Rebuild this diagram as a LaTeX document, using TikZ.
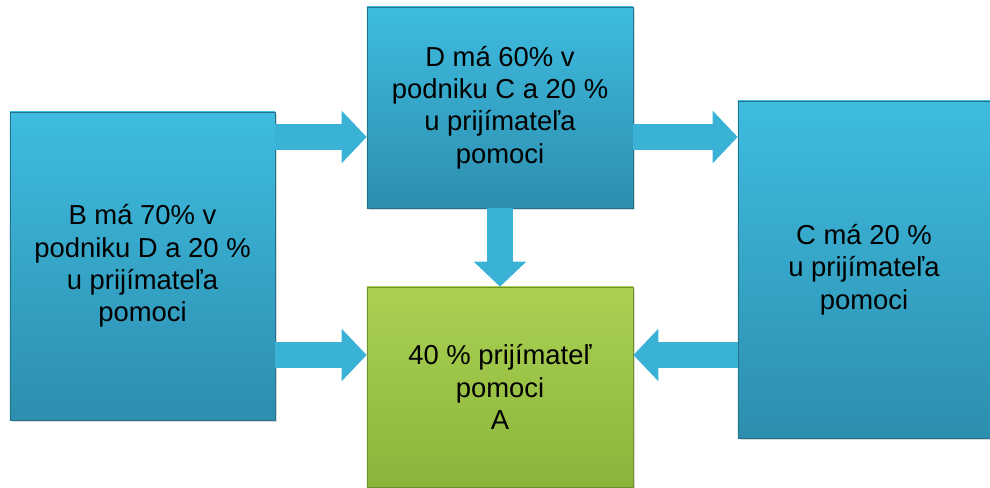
\documentclass[tikz,border=0pt]{standalone}
\usepackage{fontspec}
\setmainfont{Liberation Sans}
\usetikzlibrary{shapes,arrows.meta,positioning,shadows}
\definecolor{boxtop}{HTML}{3EBCE0}
\definecolor{boxbot}{HTML}{2D8EAE}
\definecolor{greentop}{HTML}{AAD152}
\definecolor{greenbot}{HTML}{8BB43B}
\definecolor{arrowblue}{HTML}{3AB2D6}

\begin{document}
\begin{tikzpicture}[x=0.025cm, y=0.025cm, font=\fontsize{19.5pt}{23pt}\selectfont]
  \tikzstyle{bluebox} = [rectangle, draw=boxbot!80!black, line width=0.4pt, top color=boxtop, bottom color=boxbot, align=center, inner sep=0pt, drop shadow={opacity=0.3, shadow xshift=0.6mm, shadow yshift=-0.6mm}]
  \tikzstyle{greenbox} = [bluebox, draw=greenbot!80!black, top color=greentop, bottom color=greenbot]
  \tikzstyle{blockarrow} = [line width=0.65cm, draw=arrowblue, -{Triangle[length=0.625cm, width=1.275cm]}]
  \useasboundingbox (0,0) rectangle (990,487);
  \node [bluebox, minimum width=6.625cm, minimum height=7.7cm] (b) at (142.5,221) {B má 70\% v\\podniku D a 20 \%\\u prijímateľa\\pomoci};
  \node [bluebox, minimum width=6.65cm, minimum height=5.025cm] (d) at (500,379.5) {D má 60\% v\\podniku C a 20 \%\\u prijímateľa\\pomoci};
  \node [greenbox, minimum width=6.65cm, minimum height=5cm] (a) at (500,100) {40 \% prijímateľ\\pomoci\\A};
  \node [bluebox, minimum width=6.3cm, minimum height=8.425cm] (c) at (864,217.5) {C má 20 \%\\u prijímateľa\\pomoci};
  \draw [blockarrow] (b.east |- 0,350) -- (d.west |- 0,350);
  \draw [blockarrow] (d.east |- 0,350) -- (c.west |- 0,350);
  \draw [blockarrow] (b.east |- 0,132) -- (a.west |- 0,132);
  \draw [blockarrow] (c.west |- 0,132) -- (a.east |- 0,132);
  \draw [blockarrow] (d.south) -- (a.north);
\end{tikzpicture}
\end{document}
